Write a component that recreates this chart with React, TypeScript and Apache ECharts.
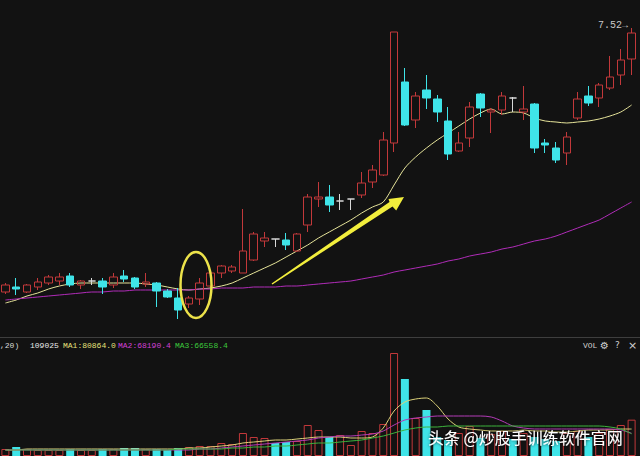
import React, { useEffect, useRef } from "react";
import * as echarts from "echarts";

const days = [
  "D01","D02","D03","D04","D05","D06","D07","D08","D09","D10",
  "D11","D12","D13","D14","D15","D16","D17","D18","D19","D20",
  "D21","D22","D23","D24","D25","D26","D27","D28","D29","D30",
  "D31","D32","D33","D34","D35","D36","D37","D38","D39","D40",
  "D41","D42","D43","D44","D45","D46","D47","D48","D49","D50",
  "D51","D52","D53","D54","D55","D56","D57","D58","D59",
];

const openP = [4.88,4.93,4.88,4.93,4.97,4.99,5.04,4.95,4.99,4.99, 4.95,5.04,5.02,4.96,4.97,4.89,4.82,4.76,4.81,4.94, 5.07,5.09,5.07,5.20,5.39,5.41,5.40,5.29,5.55,5.81, 5.83,5.79,5.81,5.85,5.98,6.05,6.37,6.98,6.60,6.90, 6.81,6.59,6.29,6.42,6.86,6.68,6.70,6.82,6.68,6.76, 6.37,6.32,6.27,6.62,6.84,6.82,6.92,7.05,7.21];
const closeP = [4.95,4.91,4.95,4.98,5.03,5.03,4.95,4.99,4.99,4.93, 5.03,5.01,4.93,4.98,4.89,4.83,4.70,4.82,4.97,5.07, 5.14,5.13,5.29,5.46,5.42,5.41,5.35,5.46,5.83,5.83, 5.75,5.79,5.81,5.97,6.10,6.40,7.48,6.55,6.84,6.82, 6.68,6.26,6.37,6.73,6.72,6.70,6.84,6.82,6.71,6.32, 6.35,6.20,6.43,6.81,6.77,6.95,7.03,7.20,7.47];
const lowP = [4.86,4.85,4.87,4.90,4.95,4.95,4.93,4.91,4.95,4.86, 4.92,4.98,4.91,4.93,4.73,4.82,4.61,4.72,4.75,4.92, 5.02,5.07,5.07,5.19,5.33,5.33,5.30,5.28,5.48,5.73, 5.68,5.70,5.70,5.82,5.92,6.04,6.28,6.54,6.52,6.71, 6.58,6.20,6.28,6.33,6.63,6.47,6.65,6.68,6.60,6.27, 6.27,6.17,6.15,6.60,6.74,6.73,6.90,6.95,7.05];
const highP = [4.97,5.02,4.96,5.02,5.05,5.07,5.07,5.00,5.02,5.02, 5.07,5.10,5.03,5.07,4.98,4.91,4.92,4.84,5.02,5.09, 5.15,5.15,5.71,5.48,5.48,5.41,5.47,5.47,5.86,5.98, 5.95,5.86,5.81,6.08,6.15,6.48,7.48,7.12,6.88,7.05, 6.85,6.73,6.48,6.78,6.87,6.72,6.88,6.83,6.94,6.77, 6.41,6.38,6.48,6.88,6.94,6.97,7.24,7.31,7.52];

const priceMa1 = [4.77,4.80,4.84,4.87,4.91,4.94,4.96,4.97,4.97,4.97, 4.97,4.97,4.97,4.96,4.95,4.93,4.91,4.90,4.91,4.92, 4.94,4.97,5.02,5.07,5.12,5.17,5.23,5.29,5.35,5.42, 5.48,5.54,5.60,5.67,5.73,5.78,5.95,6.12,6.23,6.32, 6.40,6.47,6.54,6.61,6.67,6.71,6.66,6.68,6.67,6.62, 6.59,6.58,6.57,6.58,6.59,6.61,6.64,6.68,6.75];
const priceMa2 = [4.80,4.81,4.82,4.83,4.84,4.85,4.86,4.87,4.88,4.88, 4.89,4.89,4.90,4.90,4.90,4.90,4.90,4.90,4.91,4.91, 4.92,4.92,4.92,4.93,4.93,4.93,4.94,4.94,4.95,4.96, 4.97,4.98,4.99,5.01,5.03,5.05,5.08,5.10,5.12,5.14, 5.16,5.19,5.21,5.24,5.26,5.28,5.31,5.33,5.36,5.39, 5.41,5.44,5.48,5.52,5.56,5.60,5.66,5.72,5.78];

const volume = [21000,27000,21000,18000,18000,18000,21000,18000,18000,21000, 21000,24000,24000,21000,21000,18000,24000,27000,30000,30000, 39000,36000,69000,57000,54000,39000,42000,45000,93000,78000, 57000,63000,33000,75000,69000,96000,309000,231000,114000,138000, 57000,48000,69000,90000,54000,66000,75000,51000,69000,57000, 51000,45000,69000,75000,57000,69000,81000,93000,109025];
const volMa1 = [18000,18000,21000,21000,21000,21000,21000,21000,21000,21000, 21000,21000,21000,21000,21000,21000,21000,24000,24000,27000, 30000,33000,39000,42000,45000,48000,48000,51000,54000,57000, 57000,57000,54000,54000,57000,84000,135000,162000,171000,174000, 150000,111000,87000,81000,78000,75000,75000,75000,78000,75000, 75000,72000,72000,75000,78000,78000,78000,81000,80864];
const volMa2 = [18000,18000,18000,18000,18000,18000,18000,18000,18000,18000, 18000,18000,18000,18000,18000,18000,18000,18000,21000,21000, 24000,27000,30000,33000,36000,39000,42000,45000,48000,54000, 57000,60000,60000,63000,66000,75000,93000,108000,114000,117000, 120000,120000,120000,120000,120000,117000,105000,90000,84000,81000, 81000,81000,81000,81000,81000,81000,81000,78000,68190];
const volMa3 = [18000,18000,18000,18000,18000,18000,18000,18000,18000,18000, 18000,18000,18000,18000,18000,18000,21000,21000,21000,21000, 21000,24000,24000,27000,27000,30000,30000,33000,36000,39000, 39000,42000,45000,48000,54000,60000,69000,78000,84000,87000, 87000,90000,90000,90000,90000,90000,90000,90000,90000,90000, 90000,90000,90000,90000,90000,90000,87000,81000,66558];

const headerTexts = [",20)", "109025", "MA1:80864.0", "MA2:68190.4", "MA3:66558.4"];
const lastPriceLabel = "7.52\u2192";
const watermark = "头条 @炒股手训练软件官网";

const BG = "#121212";
const RED = "#c2383a";
const CYAN = "#3fe4e8";

export default function App() {
  const ref = useRef<HTMLDivElement>(null);
  useEffect(() => {
    if (!ref.current) return;
    const chart = echarts.init(ref.current, null, { renderer: "svg" });
    const candles = days.map((_, i) => [openP[i], closeP[i], lowP[i], highP[i]]);
    const volData = volume.map((v, i) => {
      const prev = i > 0 ? closeP[i - 1] : openP[i];
      const up = closeP[i] > openP[i] || (closeP[i] === openP[i] && closeP[i] >= prev);
      return {
        value: v,
        itemStyle: up
          ? { color: "rgba(0,0,0,0)", borderColor: RED, borderWidth: 1 }
          : { color: CYAN, borderColor: CYAN, borderWidth: 0 },
      };
    });
    const lineS = (data: number[], color: string, xi: number) => ({
      type: "line",
      data,
      xAxisIndex: xi,
      yAxisIndex: xi,
      symbol: "none",
      smooth: 0.3,
      lineStyle: { color, width: 1 },
      z: 3,
    });
    const mono = '"Liberation Mono", "DejaVu Sans Mono", monospace';
    const option: any = {
      animation: false,
      backgroundColor: BG,
      grid: [
        { left: -3, right: 3, top: 0, height: 336 },
        { left: -3, right: 3, top: 350, height: 106 },
      ],
      xAxis: [
        { type: "category", data: days, gridIndex: 0, show: false },
        { type: "category", data: days, gridIndex: 1, show: false },
      ],
      yAxis: [
        { type: "value", gridIndex: 0, min: 4.44, max: 7.8, show: false },
        { type: "value", gridIndex: 1, min: 0, max: 318000, show: false },
      ],
      series: [
        {
          type: "candlestick",
          data: candles,
          barWidth: 8,
          itemStyle: {
            color: "rgba(0,0,0,0)",
            color0: CYAN,
            borderColor: RED,
            borderColor0: CYAN,
            borderColorDoji: "#d8d8d8",
            borderWidth: 1,
          },
          z: 4,
        },
        lineS(priceMa1, "#e6e49a", 0),
        lineS(priceMa2, "#b02cb8", 0),
        {
          type: "bar",
          data: volData,
          xAxisIndex: 1,
          yAxisIndex: 1,
          barWidth: 8,
        },
        lineS(volMa1, "#ddd27a", 1),
        lineS(volMa2, "#b43cb8", 1),
        lineS(volMa3, "#3cb43c", 1),
      ],
      graphic: [
        { type: "line", shape: { x1: 0, y1: 337.5, x2: 640, y2: 337.5 }, style: { stroke: "#3e3e3e", lineWidth: 1 } },
        { type: "text", x: 0, y: 345, style: { text: headerTexts[0], font: `8px ${mono}`, fill: "#d8d8d8", verticalAlign: "middle" } },
        { type: "text", x: 30, y: 345, style: { text: headerTexts[1], font: `8px ${mono}`, fill: "#e8e8e8", verticalAlign: "middle" } },
        { type: "text", x: 63, y: 345, style: { text: headerTexts[2], font: `8px ${mono}`, fill: "#e4e07a", verticalAlign: "middle" } },
        { type: "text", x: 118, y: 345, style: { text: headerTexts[3], font: `8px ${mono}`, fill: "#d040d4", verticalAlign: "middle" } },
        { type: "text", x: 175, y: 345, style: { text: headerTexts[4], font: `8px ${mono}`, fill: "#3cc83c", verticalAlign: "middle" } },
        { type: "text", x: 583, y: 345, style: { text: "VOL", font: `8px ${mono}`, fill: "#d0d0d0", verticalAlign: "middle" } },
        { type: "text", x: 600, y: 345, style: { text: "\u2699", font: '10px "DejaVu Sans"', fill: "#d0d0d0", verticalAlign: "middle" } },
        { type: "text", x: 615, y: 345, style: { text: "?", font: '9px "DejaVu Sans"', fill: "#d0d0d0", verticalAlign: "middle" } },
        { type: "text", x: 628, y: 345, style: { text: "\u00d7", font: '11px "DejaVu Sans"', fill: "#d0d0d0", verticalAlign: "middle" } },
        { type: "text", x: 598, y: 25, style: { text: lastPriceLabel, font: `10px ${mono}`, fill: "#c8c8c8", verticalAlign: "middle" } },
        {
          type: "ellipse",
          shape: { cx: 196, cy: 285, rx: 15.5, ry: 33 },
          style: { fill: "none", stroke: "#ece24a", lineWidth: 2.5 },
          z: 100,
        },
        {
          type: "polygon",
          shape: {
            points: [
              [271.6, 283.4],
              [272.4, 284.6],
              [392.5, 206.4],
              [396.2, 210.5],
              [404, 197],
              [388.5, 198.9],
              [389.5, 201.9],
            ],
          },
          style: { fill: "#f2ee3c" },
          z: 100,
        },
        {
          type: "text",
          x: 428,
          y: 437,
          z: 100,
          style: {
            text: watermark,
            font: '16px "Noto Sans CJK SC"',
            fill: "#ffffff",
            verticalAlign: "middle",
            textShadowColor: "rgba(0,0,0,0.9)",
            textShadowBlur: 3,
          },
        },
      ],
    };
    chart.setOption(option);
    return () => chart.dispose();
  }, []);
  return <div ref={ref} style={{ width: 640, height: 456, position: "absolute", left: 0, top: 0 }} />;
}
